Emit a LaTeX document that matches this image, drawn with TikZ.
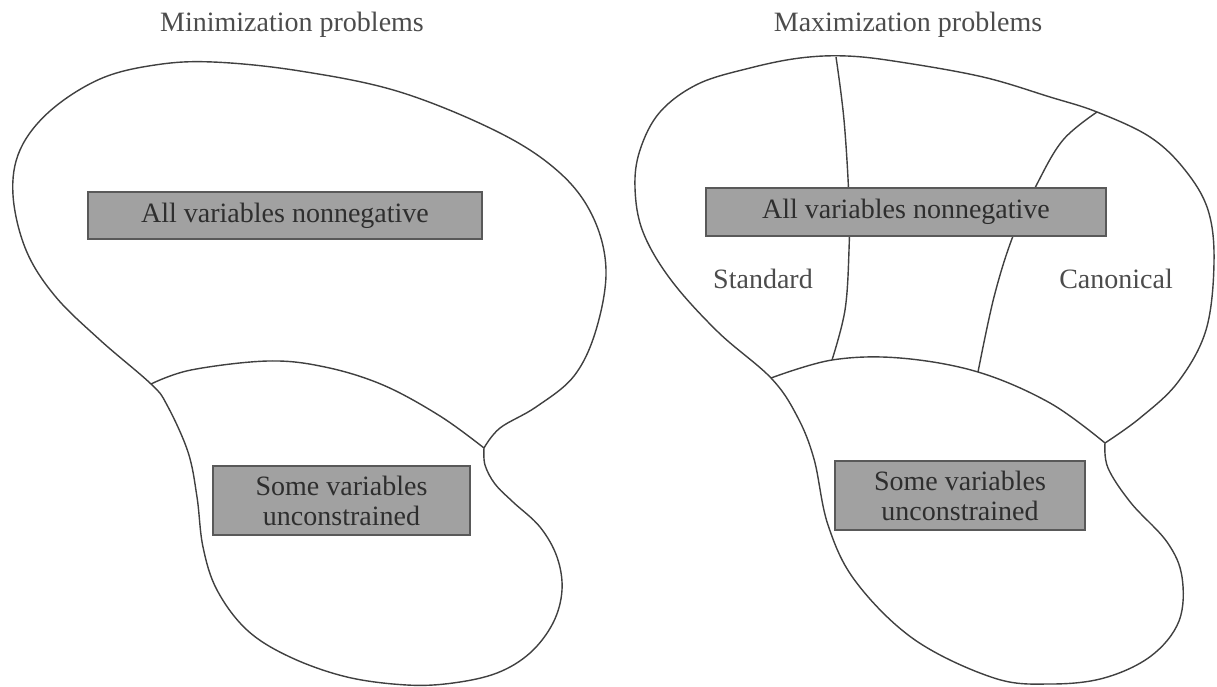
\documentclass[tikz,border=0pt]{standalone}
\usepackage{fontspec}
\setmainfont{Liberation Serif}
\begin{document}
\begin{tikzpicture}[x=1pt,y=-1pt,
  outline/.style={draw=black!75, line width=1.4pt, line join=round},
  gbox/.style={draw=black!65, fill=black!37, line width=1.2pt, text=black!82, inner sep=0pt,
     font=\fontsize{28}{30}\selectfont, align=center},
  lbl/.style={text=black!70, font=\fontsize{28}{30}\selectfont, inner sep=0pt}]
\useasboundingbox (0,0) rectangle (1217,686);
\fill[white] (0,0) rectangle (1217,686);

% ---------------- Minimization ----------------
\node[lbl] (mintitle) at (292,25) {Minimization problems};
\draw[outline] plot[smooth, tension=0.6] coordinates {
  (484,448) (485,465) (495,484) (513,502) (540,527) (557,557) (562,590)
  (553,623) (530,653) (497,673) (453,683) (407,685) (347,677) (290,657)
  (247,630) (217,590) (203,547) (197,497) (188,452) (167,405) (151,384)
  (100,340) (55,296) (26,250) (13,195) (20,150) (50,111)
  (100,79) (155,65) (213,62) (300,71) (400,92) (500,133) (560,173)
  (593,217) (606,270) (596,330) (574,376) (536,407) (500,428) (484,448)};
\draw[outline] plot[smooth, tension=0.6] coordinates {
  (151,384) (191,370) (268,361) (325,367) (383,385) (440,416) (484,448)};
\node[gbox, minimum width=394pt, minimum height=47pt] (minall) at (285,215.5) {All variables nonnegative};
\node[gbox, minimum width=257pt, minimum height=69pt] (minsome) at (341.5,500.5) {Some variables\\unconstrained};

% ---------------- Maximization ----------------
\node[lbl] (maxtitle) at (908,25) {Maximization problems};
\draw[outline] plot[smooth, tension=0.6] coordinates {
  (1105,443) (1108,468) (1131,503) (1167,542) (1182,577) (1179,621)
  (1151,656) (1104,678) (1050,684) (994,678) (915,640) (856,582)
  (828,525) (814,459) (797,416) (771,378) (718,332) (671,280) (643,232)
  (635,188) (640,150) (660,112) (698,84) (750,68) (800,58) (847,56)
  (900,62) (983,77) (1050,97) (1097,112) (1150,137) (1185,170)
  (1208,210) (1214,262) (1206,330) (1178,382) (1140,418) (1105,443)};
\draw[outline] plot[smooth, tension=0.6] coordinates {
  (771,378) (832,360) (900,358) (978,372) (1050,403) (1105,443)};
\draw[outline] plot[smooth, tension=0.6] coordinates {
  (836,57) (844,120) (849,200) (849,250) (845,310) (832,360)};
\draw[outline] plot[smooth, tension=0.6] coordinates {
  (1097,112) (1063,140) (1037,184) (1013,236) (994,297) (978,372)};
\node[gbox, minimum width=400pt, minimum height=48pt] (maxall) at (906,212) {All variables nonnegative};
\node[gbox, minimum width=250pt, minimum height=69pt] (maxsome) at (960,495.5) {Some variables\\unconstrained};
\node[lbl] (std) at (763,279) {Standard};
\node[lbl] (can) at (1116,279) {Canonical};
\end{tikzpicture}
\end{document}
